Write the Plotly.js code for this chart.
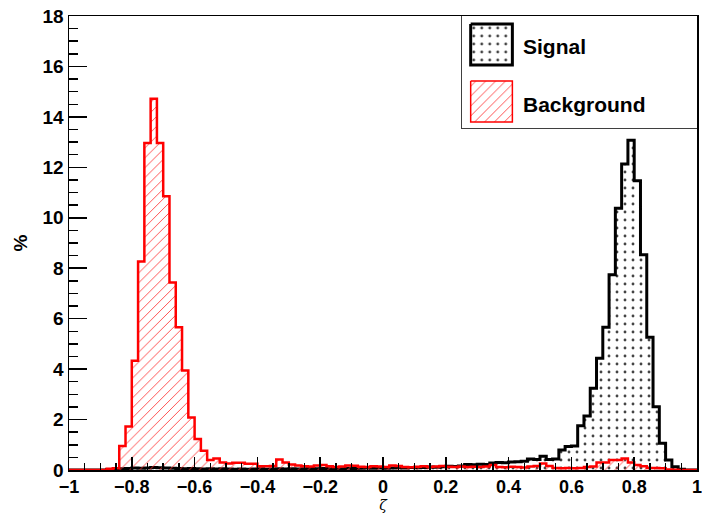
<!DOCTYPE html>
<html>
<head>
<meta charset="utf-8">
<script src="https://cdn.plot.ly/plotly-3.0.1.min.js"></script>
<style>html,body{margin:0;padding:0;background:#fff;}#chart{width:702px;height:513px;}</style>
</head>
<body>
<div id="chart"></div>
<script>
// Histogram binning (100 bins on [-1, 1])
const binLow = -1;
const binWidth = 0.02;

// Axis tick positions
const xTickVals = [-1, -0.8, -0.6, -0.4, -0.2, 0, 0.2, 0.4, 0.6, 0.8, 1];
const yTickVals = [0, 2, 4, 6, 8, 10, 12, 14, 16, 18];

// Signal histogram contents (%)
const signalValues = [
  0, 0, 0, 0, 0, 0, 0.02, 0.03, 0.05, 0.06,
  0.08, 0.07, 0.08, 0.10, 0.09, 0.08, 0.07, 0.06, 0.05, 0.06,
  0.05, 0.04, 0.05, 0.04, 0.05, 0.04, 0.03, 0.04, 0.03, 0.04,
  0.05, 0.03, 0.04, 0.05, 0.04, 0.05, 0.04, 0.05, 0.06, 0.05,
  0.06, 0.05, 0.06, 0.05, 0.07, 0.06, 0.07, 0.08, 0.07, 0.08,
  0.07, 0.08, 0.09, 0.08, 0.10, 0.09, 0.10, 0.12, 0.11, 0.13,
  0.15, 0.14, 0.16, 0.22, 0.21, 0.23, 0.22, 0.28, 0.30, 0.29,
  0.32, 0.33, 0.35, 0.44, 0.42, 0.55, 0.42, 0.44, 0.79, 0.93,
  0.95, 1.75, 2.14, 3.24, 4.43, 5.66, 7.74, 10.38, 12.13, 13.07,
  11.47, 8.53, 5.26, 2.51, 1.06, 0.40, 0.13, 0.03, 0, 0
];

// Background histogram contents (%)
const backgroundValues = [
  0, 0, 0, 0, 0, 0, 0.05, 0.07, 0.95, 1.72,
  4.33, 8.27, 12.96, 14.72, 12.96, 10.85, 7.43, 5.66, 3.94, 2.08,
  1.23, 0.76, 0.40, 0.46, 0.30, 0.26, 0.29, 0.29, 0.25, 0.25,
  0.15, 0.15, 0.16, 0.42, 0.30, 0.22, 0.18, 0.15, 0.14, 0.18,
  0.20, 0.15, 0.12, 0.14, 0.18, 0.17, 0.13, 0.12, 0.15, 0.14,
  0.12, 0.18, 0.16, 0.12, 0.11, 0.13, 0.15, 0.12, 0.14, 0.16,
  0.13, 0.12, 0.14, 0.12, 0.13, 0.12, 0.14, 0.20, 0.12, 0.11,
  0.13, 0.12, 0.10, 0.14, 0.16, 0.26, 0.16, 0.08, 0.07, 0.08,
  0.07, 0.08, 0.12, 0.14, 0.30, 0.30, 0.40, 0.40, 0.46, 0.30,
  0.20, 0.15, 0.08, 0.08, 0.07, 0.02, 0.01, 0, 0, 0
];

const seriesNames = ['Signal', 'Background'];
const xTitle = 'ζ';
const yTitle = '%';

// Build step outline (bin edges) from the bin contents
function stepXY(vals) {
  const xs = [binLow], ys = [0];
  for (let i = 0; i < vals.length; i++) {
    xs.push(Math.round((binLow + i * binWidth) * 1e6) / 1e6);
    ys.push(vals[i]);
  }
  const hi = Math.round((binLow + vals.length * binWidth) * 1e6) / 1e6;
  xs.push(hi); ys.push(vals[vals.length - 1]);
  xs.push(hi); ys.push(0);
  return {x: xs, y: ys};
}

const sig = stepXY(signalValues);
const bkg = stepXY(backgroundValues);

const dotPattern = {shape: '.', fgcolor: '#444', bgcolor: 'rgba(0,0,0,0)', size: 8, solidity: 0.1};
const hatchPattern = {shape: '/', fgcolor: '#ff3333', bgcolor: 'rgba(0,0,0,0)', size: 7, solidity: 0.12};

const traces = [
  {
    type: 'scatter', mode: 'lines', name: seriesNames[0],
    x: sig.x, y: sig.y,
    line: {shape: 'hv', color: '#000', width: 3},
    fill: 'tozeroy', fillcolor: 'rgba(0,0,0,0)',
    fillpattern: dotPattern,
    showlegend: false, hoverinfo: 'skip'
  },
  {
    type: 'scatter', mode: 'lines', name: seriesNames[1],
    x: bkg.x, y: bkg.y,
    line: {shape: 'hv', color: '#ff0000', width: 2.5},
    fill: 'tozeroy', fillcolor: 'rgba(0,0,0,0)',
    fillpattern: hatchPattern,
    showlegend: false, hoverinfo: 'skip'
  },
  // legend swatches (drawn on an overlay axis inside the legend box)
  {
    type: 'scatter', mode: 'lines', xaxis: 'x2', yaxis: 'y2',
    x: [9, 51, 51, 9, 9], y: [8, 8, 49, 49, 8],
    fill: 'toself', fillcolor: 'rgba(0,0,0,0)',
    fillpattern: dotPattern,
    line: {color: '#000', width: 3}, showlegend: false, hoverinfo: 'skip'
  },
  {
    type: 'scatter', mode: 'lines', xaxis: 'x2', yaxis: 'y2',
    x: [9, 51, 51, 9, 9], y: [65, 65, 106, 106, 65],
    fill: 'toself', fillcolor: 'rgba(0,0,0,0)',
    fillpattern: hatchPattern,
    line: {color: '#ff0000', width: 1.5}, showlegend: false, hoverinfo: 'skip'
  }
];

const tickFont = {family: 'Liberation Sans, Arial, sans-serif', size: 18, color: '#000', weight: 'bold'};
const legendFont = {family: 'Liberation Sans, Arial, sans-serif', size: 21, color: '#000', weight: 'bold'};

const layout = {
  width: 702, height: 513,
  margin: {l: 69, r: 5, t: 16, b: 43, pad: 0},
  paper_bgcolor: '#fff', plot_bgcolor: '#fff',
  showlegend: false,
  xaxis: {
    range: [-1, 1], domain: [0, 1], anchor: 'y',
    showline: true, linecolor: '#000', linewidth: 1.5, mirror: true,
    showgrid: false, zeroline: false,
    ticks: 'inside', ticklen: 13, tickwidth: 1.5, tickcolor: '#000',
    tickmode: 'array', tickvals: xTickVals,
    ticklabeloverflow: 'allow',
    minor: {ticks: 'inside', dtick: 0.05, tick0: 0, ticklen: 7, tickwidth: 1.5, tickcolor: '#000', showgrid: false},
    tickfont: tickFont,
    title: {text: xTitle, font: {family: 'DejaVu Serif, serif', size: 14, color: '#000', style: 'italic'}, standoff: 6}
  },
  yaxis: {
    range: [0, 18], domain: [0, 1], anchor: 'x',
    showline: true, linecolor: '#000', linewidth: 1.5, mirror: true,
    showgrid: false, zeroline: false,
    ticks: 'inside', ticklen: 18, tickwidth: 1.5, tickcolor: '#000',
    tickmode: 'array', tickvals: yTickVals, ticklabeloverflow: 'allow',
    minor: {ticks: 'inside', dtick: 0.5, tick0: 0, ticklen: 9, tickwidth: 1.5, tickcolor: '#000', showgrid: false},
    tickfont: {family: 'Liberation Sans, Arial, sans-serif', size: 19, color: '#000', weight: 'bold'},
    title: {text: yTitle, font: {family: 'Liberation Sans, Arial, sans-serif', size: 19, color: '#000', weight: 'bold'}, standoff: 10}
  },
  xaxis2: {
    domain: [0.6254, 1], range: [0, 237], anchor: 'y2',
    visible: false, fixedrange: true
  },
  yaxis2: {
    domain: [0.7533, 1], range: [112, 0], anchor: 'x2',
    visible: false, fixedrange: true
  },
  shapes: [
    {type: 'rect', xref: 'paper', yref: 'paper', x0: 0.6254, x1: 1, y0: 0.7533, y1: 1,
     line: {color: '#000', width: 1.5}, fillcolor: '#fff', layer: 'below'}
  ],
  annotations: [
    {xref: 'paper', yref: 'paper', x: 0.719, y: 0.933, xanchor: 'left', yanchor: 'middle',
     text: seriesNames[0], showarrow: false, font: legendFont},
    {xref: 'paper', yref: 'paper', x: 0.719, y: 0.806, xanchor: 'left', yanchor: 'middle',
     text: seriesNames[1], showarrow: false, font: legendFont}
  ]
};

Plotly.newPlot('chart', traces, layout, {displayModeBar: false, staticPlot: true});
</script>
</body>
</html>
